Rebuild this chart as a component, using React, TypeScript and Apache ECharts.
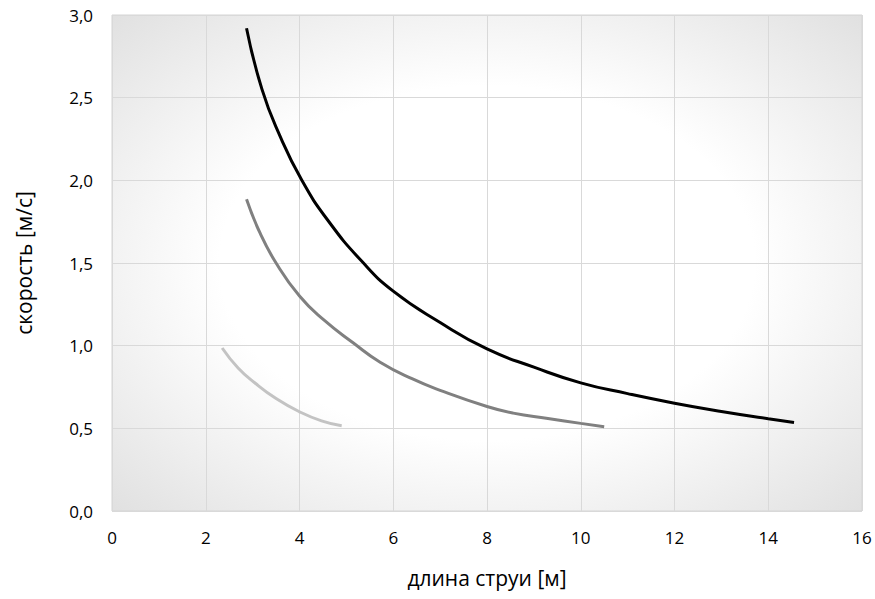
import React, { useEffect, useRef } from "react";
import * as echarts from "echarts";

const xTicks = [0, 2, 4, 6, 8, 10, 12, 14, 16];
const yTicks = [0, 0.5, 1.0, 1.5, 2.0, 2.5, 3.0];

const seriesBlack: [number, number][] = [
  [2.87, 2.92], [3.2, 2.55], [3.58, 2.27], [4.05, 2.0], [4.6, 1.76], [5.33, 1.51],
  [6, 1.33], [7, 1.14], [8, 0.98], [9, 0.87], [10, 0.775], [11, 0.71],
  [12, 0.652], [13, 0.602], [14, 0.558], [14.55, 0.535],
];
const seriesGray: [number, number][] = [
  [2.87, 1.885], [3.16, 1.68], [3.5, 1.5], [4, 1.30], [4.5, 1.16], [5.15, 1.016],
  [5.72, 0.90], [6.4, 0.80], [7, 0.73], [8, 0.632], [8.56, 0.592], [9.3, 0.56],
  [10, 0.53], [10.5, 0.51],
];
const seriesLight: [number, number][] = [
  [2.35, 0.986], [2.69, 0.865], [3.05, 0.774], [3.5, 0.68], [4, 0.60], [4.47, 0.545], [4.9, 0.515],
];

const xName = "длина струи [м]";
const yName = "скорость [м/с]";

export default function App() {
  const ref = useRef<HTMLDivElement>(null);
  useEffect(() => {
    if (!ref.current) return;
    const chart = echarts.init(ref.current, undefined, { renderer: "svg" });
    const font = "'Open Sans', 'Noto Sans', sans-serif";
    const mk = (data: [number, number][], color: string) => ({
      type: "line",
      data,
      smooth: 0.5,
      showSymbol: false,
      symbol: "none",
      lineStyle: { color, width: 3 },
      itemStyle: { color },
    });
    chart.setOption({
      animation: false,
      backgroundColor: "#ffffff",
      grid: {
        left: 112,
        top: 15,
        width: 750,
        height: 496,
        show: true,
        borderColor: "#d4d4d4",
        borderWidth: 1,
        backgroundColor: new echarts.graphic.RadialGradient(0.5, 0.5, 0.85, [
          { offset: 0, color: "#ffffff" },
          { offset: 0.42, color: "#ffffff" },
          { offset: 1, color: "#d4d4d4" },
        ]),
      },
      xAxis: {
        type: "value",
        min: xTicks[0],
        max: xTicks[xTicks.length - 1],
        interval: 2,
        name: xName,
        nameLocation: "middle",
        nameGap: 56,
        nameTextStyle: { fontFamily: font, fontSize: 21, color: "#000" },
        axisLine: { show: false },
        axisTick: { show: false },
        axisLabel: {
          fontFamily: font,
          fontSize: 17,
          color: "#000",
          margin: 18,
          formatter: (v: number) => String(v),
        },
        splitLine: { show: true, lineStyle: { color: "#d9d9d9", width: 1 } },
      },
      yAxis: {
        type: "value",
        min: yTicks[0],
        max: yTicks[yTicks.length - 1],
        interval: 0.5,
        name: yName,
        nameLocation: "middle",
        nameGap: 78,
        nameRotate: 90,
        nameTextStyle: { fontFamily: font, fontSize: 21, color: "#000" },
        axisLine: { show: false },
        axisTick: { show: false },
        axisLabel: {
          fontFamily: font,
          fontSize: 17,
          color: "#000",
          margin: 19,
          formatter: (v: number) => v.toFixed(1).replace(".", ","),
        },
        splitLine: { show: true, lineStyle: { color: "#d9d9d9", width: 1 } },
      },
      series: [
        mk(seriesBlack, "#000000"),
        mk(seriesGray, "#808080"),
        mk(seriesLight, "#c3c3c3"),
      ],
    });
    return () => chart.dispose();
  }, []);
  return <div ref={ref} style={{ width: 875, height: 599, position: "absolute", left: 0, top: 0 }} />;
}
